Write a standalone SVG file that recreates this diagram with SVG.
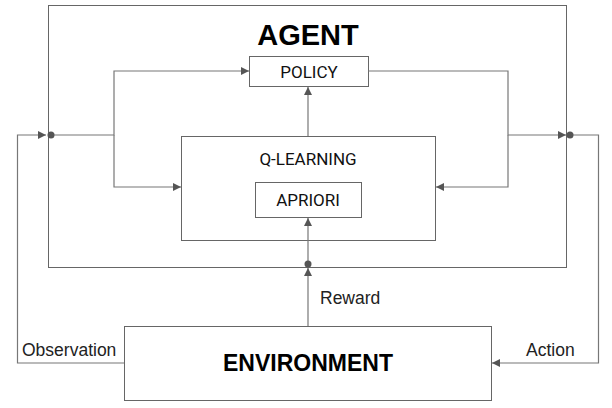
<svg xmlns="http://www.w3.org/2000/svg" width="612" height="408" viewBox="0 0 612 408">
<style>
.box{fill:#fff;stroke:#666;stroke-width:1}
.ln{fill:none;stroke:#777;stroke-width:1.2}
.lbl{font-family:Roboto,"Liberation Sans",sans-serif;font-size:17px;fill:#111;text-anchor:middle}
.big{font-family:"Liberation Sans",Arial,sans-serif;font-weight:bold;fill:#000;text-anchor:middle}
.edge{font-family:"Liberation Sans",Arial,sans-serif;font-size:17.5px;fill:#222}
.dot{fill:#555}
</style>
<defs>
<marker id="ah" viewBox="0 0 10 10" refX="10" refY="5" markerWidth="10" markerHeight="8" markerUnits="userSpaceOnUse" orient="auto">
<path d="M0,0 L10,5 L0,10 z" fill="#555"/>
</marker>
</defs>
<g id="agent">
<rect class="box" x="48.5" y="5.5" width="518" height="262" fill="none"/>
<text class="big" x="308" y="45" font-size="29">AGENT</text>
</g>
<g id="policy">
<rect class="box" x="249.5" y="56.5" width="119" height="30"/>
<text class="lbl" x="309" y="77.5">POLICY</text>
</g>
<g id="qlearning">
<rect class="box" x="181.5" y="136.5" width="254" height="104"/>
<text class="lbl" x="308" y="164.5">Q-LEARNING</text>
</g>
<g id="apriori">
<rect class="box" x="255.5" y="182.5" width="106" height="35"/>
<text class="lbl" x="308" y="206">APRIORI</text>
</g>
<g id="environment">
<rect class="box" x="124.5" y="326.5" width="367" height="74"/>
<text class="big" x="308" y="371" font-size="23">ENVIRONMENT</text>
</g>
<g id="connectors">
<path class="ln" d="M51,135 H114 V71 H249" marker-end="url(#ah)"/>
<path class="ln" d="M114,135 V187 H181" marker-end="url(#ah)"/>
<path class="ln" d="M368,71 H508 V135 H566" marker-end="url(#ah)"/>
<path class="ln" d="M508,135 V187 H436" marker-end="url(#ah)"/>
<path class="ln" d="M308,136 V87" marker-end="url(#ah)"/>
<path class="ln" d="M308,264 V218" marker-end="url(#ah)"/>
<path class="ln" d="M308,326 V268" marker-end="url(#ah)"/>
<path class="ln" d="M124,363 H17.5 V135 H46" marker-end="url(#ah)"/>
<path class="ln" d="M570,135 H598.5 V363 H492" marker-end="url(#ah)"/>
<circle class="dot" cx="51" cy="135" r="3.5"/>
<circle class="dot" cx="570" cy="135" r="3.5"/>
<circle class="dot" cx="308" cy="264" r="3.5"/>
<text class="edge" x="320" y="304">Reward</text>
<text class="edge" x="22" y="356">Observation</text>
<text class="edge" x="526" y="356">Action</text>
</g>
</svg>
